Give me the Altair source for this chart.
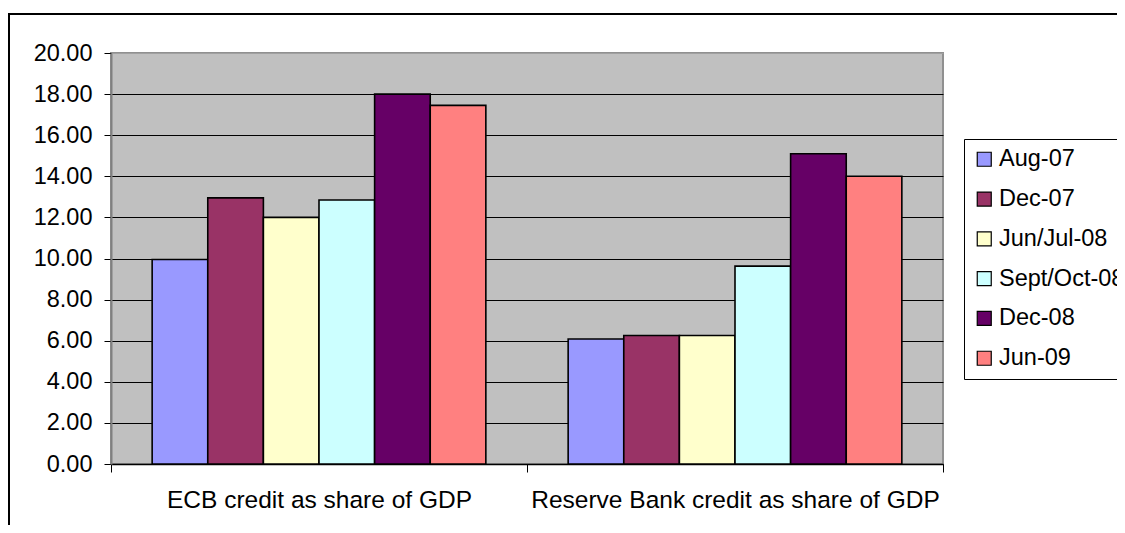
import altair as alt
import pandas as pd

categories = ["ECB credit as share of GDP", "Reserve Bank credit as share of GDP"]
series = ["Aug-07", "Dec-07", "Jun/Jul-08", "Sept/Oct-08", "Dec-08", "Jun-09"]
ecb_values = [9.95, 12.95, 12.0, 12.85, 18.0, 17.45]
rb_values = [6.08, 6.25, 6.25, 9.63, 15.1, 14.0]
colors = ["#9999FF", "#993366", "#FFFFCC", "#CCFFFF", "#660066", "#FF8080"]

rows = []
for s, v in zip(series, ecb_values):
    rows.append({"category": categories[0], "series": s, "value": v})
for s, v in zip(series, rb_values):
    rows.append({"category": categories[1], "series": s, "value": v})
df = pd.DataFrame(rows)

FONT = "Liberation Sans"

bars = alt.Chart(df).mark_bar(stroke="black", strokeWidth=1.6).encode(
    x=alt.X("category:N", sort=categories, title=None,
            scale=alt.Scale(paddingInner=0, paddingOuter=0),
            axis=alt.Axis(labelAngle=0, labelFontSize=24.5, labelFont=FONT, labelColor="black",
                          labelPadding=16, tickBand="extent", tickSize=8, tickColor="black",
                          domainColor="black", domainWidth=1.5, labelLimit=600, grid=False)),
    xOffset=alt.XOffset("series:N", sort=series,
                        scale=alt.Scale(paddingOuter=0.74, paddingInner=0)),
    y=alt.Y("value:Q", title=None,
            scale=alt.Scale(domain=[0, 20], nice=False),
            axis=alt.Axis(values=[0, 2, 4, 6, 8, 10, 12, 14, 16, 18, 20], format=".2f",
                          labelFontSize=23.5, labelFont=FONT, labelColor="black",
                          labelPadding=12, tickSize=7, tickColor="black",
                          domainColor="#808080", domainWidth=2,
                          gridColor=alt.condition("datum.value == 20", alt.value("#A0A0A0"), alt.value("black")),
                          gridWidth=1.2)),
    color=alt.Color("series:N", sort=series,
                    scale=alt.Scale(domain=series, range=colors),
                    legend=alt.Legend(title=None, orient="none", legendX=853, legendY=86,
                                      symbolType="square", symbolSize=196,
                                      symbolStrokeColor="black", symbolStrokeWidth=1.2,
                                      labelFontSize=23.5, labelFont=FONT, labelColor="black",
                                      labelOffset=3, rowPadding=14.8, padding=8.5,
                                      strokeColor="black", fillColor="white",
                                      labelLimit=400)),
)

frame = alt.Chart(alt.Data(values=[{"a": 1}])).mark_rect(
    fill="transparent", stroke="black", strokeWidth=2, clip=False
).encode(
    x=alt.value(-102), x2=alt.value(1100), y=alt.value(-39), y2=alt.value(600)
)

chart = alt.layer(frame, bars).properties(
    width=832, height=411,
    autosize=alt.AutoSizeParams(type="none"),
    padding={"left": 103, "top": 45, "right": 174, "bottom": 61},
    background="white",
).configure_view(
    fill="#C0C0C0", stroke="#909090", strokeWidth=2
)

chart.save("out.html", embed_options={"renderer": "svg", "actions": False})
